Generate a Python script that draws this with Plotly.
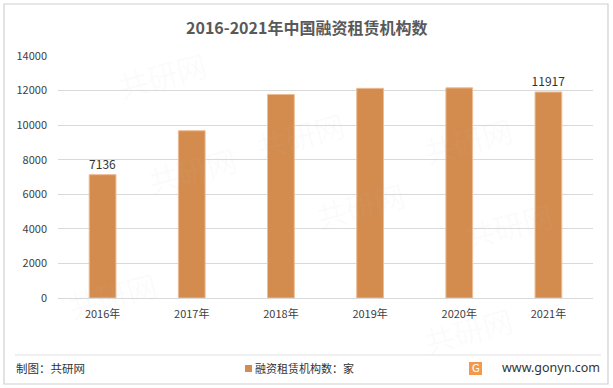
import plotly.graph_objects as go

categories = ["2016年", "2017年", "2018年", "2019年", "2020年", "2021年"]
values = [7136, 9676, 11777, 12130, 12156, 11917]
label_text = ["7136", "", "", "", "", "11917"]
y_ticks = [0, 2000, 4000, 6000, 8000, 10000, 12000, 14000]
y_tick_text = [str(v) for v in y_ticks]

W, H = 613, 388
L, R, T, B = 58, 20, 56, 90
PW, PH = W - L - R, H - T - B

def px(x):
    return (x - L) / PW

def py(y):
    return (H - B - y) / PH

FONT = "Noto Sans CJK SC"
BAR = "#D38C4E"

fig = go.Figure()
fig.add_trace(go.Bar(
    x=categories, y=values, name="融资租赁机构数：家",
    marker=dict(color=BAR, line=dict(color="#EDBC93", width=1)),
    text=label_text, textposition="outside", cliponaxis=False, constraintext="none",
    textfont=dict(family=FONT, size=12, color="#333333"),
    width=0.3, showlegend=False, hoverinfo="skip",
))

shapes = [
    dict(type="rect", xref="paper", yref="paper", x0=px(4), x1=px(608), y0=py(384), y1=py(4),
         line=dict(color="#d0d0d0", width=1.2), fillcolor="rgba(0,0,0,0)", layer="below"),
    dict(type="line", xref="paper", yref="paper", x0=px(15), x1=px(601), y0=py(355), y1=py(355),
         line=dict(color="#e0e0e0", width=1)),
    dict(type="rect", xref="paper", yref="paper", x0=px(245), x1=px(252), y0=py(372), y1=py(365),
         line=dict(width=0), fillcolor=BAR),
    dict(type="rect", xref="paper", yref="paper", x0=px(469), x1=px(482), y0=py(375), y1=py(362),
         line=dict(width=0), fillcolor="#F39A4A"),
]

annotations = [
    dict(text="<b>2016-2021年中国融资租赁机构数</b>", xref="paper", yref="paper", x=px(306), y=py(27),
         showarrow=False, font=dict(family=FONT, size=16, color="#595959"), xanchor="center", yanchor="middle"),
    dict(text="制图：共研网", xref="paper", yref="paper", x=px(14), y=py(368),
         showarrow=False, font=dict(family=FONT, size=11.5, color="#333333"), xanchor="left", yanchor="middle"),
    dict(text="融资租赁机构数：家", xref="paper", yref="paper", x=px(253), y=py(368),
         showarrow=False, font=dict(family=FONT, size=11, color="#333333"), xanchor="left", yanchor="middle"),
    dict(text="G", xref="paper", yref="paper", x=px(475.5), y=py(368.5),
         showarrow=False, font=dict(family="DejaVu Sans", size=10, color="white"), xanchor="center", yanchor="middle"),
    dict(text="www.gonyn.com", xref="paper", yref="paper", x=px(602), y=py(367),
         showarrow=False, font=dict(family="Noto Sans", size=12.5, color="#333333"), xanchor="right", yanchor="middle"),
]

# faint watermarks
for (wx, wy) in [(110, 40), (300, 100), (520, 140), (140, 170), (360, 240), (60, 330), (560, 260), (520, 365)]:
    annotations.append(dict(text="共研网", xref="paper", yref="paper", x=px(wx), y=py(wy), showarrow=False,
                            textangle=-15, font=dict(family=FONT, size=30, color="rgba(200,200,200,0.07)")))

fig.update_layout(
    width=W, height=H,
    margin=dict(l=L, r=R, t=T, b=B, autoexpand=False),
    paper_bgcolor="white", plot_bgcolor="white",
    shapes=shapes, annotations=annotations,
    showlegend=False,
    xaxis=dict(tickfont=dict(family=FONT, size=11, color="#404040"), showgrid=False,
               showline=False, ticks="", ticklabelstandoff=8),
    yaxis=dict(range=[0, 14000], tickvals=y_ticks, ticktext=y_tick_text, showgrid=True,
               gridcolor="#d9d9d9", gridwidth=1,
               zeroline=True, zerolinecolor="#d9d9d9", zerolinewidth=1, showline=False,
               tickfont=dict(family=FONT, size=11, color="#404040"), ticklabelstandoff=10),
    bargap=0.7,
)

fig.write_html("out.html", config={"displayModeBar": False},
               post_script="document.body.style.margin='0';document.body.style.overflow='hidden';")
